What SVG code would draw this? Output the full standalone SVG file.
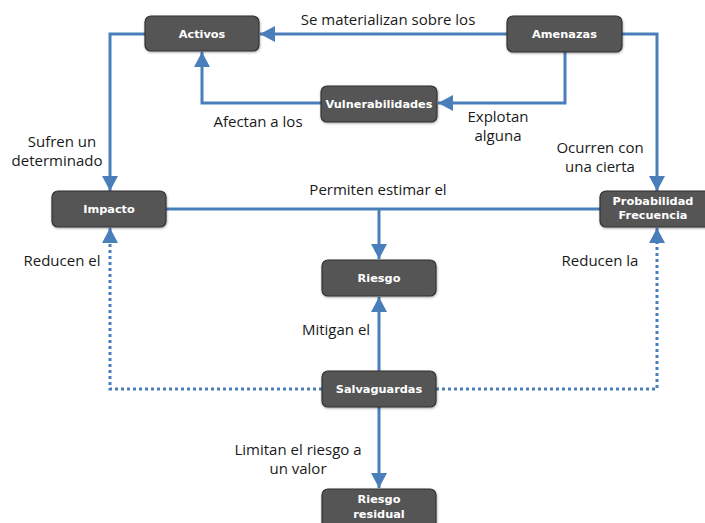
<svg xmlns="http://www.w3.org/2000/svg" width="705" height="523" viewBox="0 0 705 523">
  <defs>
    <marker id="arrow" markerUnits="userSpaceOnUse" markerWidth="16" markerHeight="16" viewBox="0 0 16 16" refX="15" refY="8" orient="auto">
      <path d="M0,0 L15,8 L0,16 Z" fill="#4a7ebb"/>
    </marker>
    <filter id="shadow" x="-10%" y="-20%" width="130%" height="150%">
      <feDropShadow dx="0.5" dy="1" stdDeviation="0.8" flood-color="#000" flood-opacity="0.35"/>
    </filter>
  </defs>
  <style>
    .box { fill: #555555; stroke: #333333; stroke-width: 1.2; filter: url(#shadow); }
    .nt { font-family: "DejaVu Sans", Verdana, sans-serif; font-weight: bold; font-size: 11.3px; fill: #ffffff; text-anchor: middle; }
    .lbl { font-family: "Open Sans", "Noto Sans", sans-serif; font-size: 15px; fill: #1a1a1a; text-anchor: middle; }
    .ln { fill: none; stroke: #4a7ebb; stroke-width: 3; }
    .dot { fill: none; stroke: #4a7ebb; stroke-width: 3; stroke-dasharray: 3 3; }
  </style>
  <rect width="705" height="523" fill="#ffffff"/>

  <g id="connectors">
    <!-- Amenazas to Activos -->
    <path class="ln" d="M507,34 H260" marker-end="url(#arrow)"/>
    <!-- Amenazas to Vulnerabilidades -->
    <path class="ln" d="M565,52 V103 H438" marker-end="url(#arrow)"/>
    <!-- Vulnerabilidades to Activos -->
    <path class="ln" d="M321,103 H202 V52" marker-end="url(#arrow)"/>
    <!-- Amenazas to Probabilidad -->
    <path class="ln" d="M622,34 H657 V191" marker-end="url(#arrow)"/>
    <!-- Activos to Impacto -->
    <path class="ln" d="M145,34 H110 V191" marker-end="url(#arrow)"/>
    <!-- Impacto / Probabilidad to Riesgo -->
    <path class="ln" d="M166,209 H600"/>
    <path class="ln" d="M379,209 V259" marker-end="url(#arrow)"/>
    <!-- Salvaguardas to Riesgo -->
    <path class="ln" d="M379,371 V297" marker-end="url(#arrow)"/>
    <!-- Salvaguardas to Riesgo residual -->
    <path class="ln" d="M379,407 V488" marker-end="url(#arrow)"/>
    <!-- Salvaguardas reduce Impacto and Probabilidad -->
    <path class="dot" d="M322,389 H110 V242"/>
    <path class="ln" d="M110,243 V228" marker-end="url(#arrow)"/>
    <path class="dot" d="M436,389 H657 V242"/>
    <path class="ln" d="M657,243 V228" marker-end="url(#arrow)"/>

    <text class="lbl" x="388" y="25">Se materializan sobre los</text>
    <text class="lbl" x="498" y="122">Explotan</text>
    <text class="lbl" x="498" y="141">alguna</text>
    <text class="lbl" x="258" y="127">Afectan a los</text>
    <text class="lbl" x="600" y="153">Ocurren con</text>
    <text class="lbl" x="600" y="172">una cierta</text>
    <text class="lbl" x="62" y="147">Sufren un</text>
    <text class="lbl" x="57" y="166">determinado</text>
    <text class="lbl" x="378" y="195">Permiten estimar el</text>
    <text class="lbl" x="62" y="266">Reducen el</text>
    <text class="lbl" x="600" y="266">Reducen la</text>
    <text class="lbl" x="336" y="335">Mitigan el</text>
    <text class="lbl" x="298" y="455">Limitan el riesgo a</text>
    <text class="lbl" x="298" y="474">un valor</text>
  </g>

  <g id="activos">
    <rect class="box" x="145" y="16" width="114" height="35" rx="6"/>
    <text class="nt" x="202" y="38">Activos</text>
  </g>
  <g id="amenazas">
    <rect class="box" x="507" y="16" width="115" height="36" rx="6"/>
    <text class="nt" x="564.5" y="38">Amenazas</text>
  </g>
  <g id="vulnerabilidades">
    <rect class="box" x="321" y="86" width="116" height="36" rx="6"/>
    <text class="nt" x="379" y="108">Vulnerabilidades</text>
  </g>
  <g id="impacto">
    <rect class="box" x="52" y="191" width="114" height="36" rx="6"/>
    <text class="nt" x="109" y="213">Impacto</text>
  </g>
  <g id="probabilidad">
    <rect class="box" x="600" y="191" width="112" height="36" rx="6"/>
    <text class="nt" x="653" y="205">Probabilidad</text>
    <text class="nt" x="653" y="219">Frecuencia</text>
  </g>
  <g id="riesgo">
    <rect class="box" x="322" y="260" width="114" height="36" rx="6"/>
    <text class="nt" x="379" y="282">Riesgo</text>
  </g>
  <g id="salvaguardas">
    <rect class="box" x="322" y="371" width="114" height="36" rx="6"/>
    <text class="nt" x="379" y="393">Salvaguardas</text>
  </g>
  <g id="riesgo-residual">
    <rect class="box" x="322" y="489" width="114" height="40" rx="6"/>
    <text class="nt" x="379" y="503">Riesgo</text>
    <text class="nt" x="379" y="518">residual</text>
  </g>
</svg>
